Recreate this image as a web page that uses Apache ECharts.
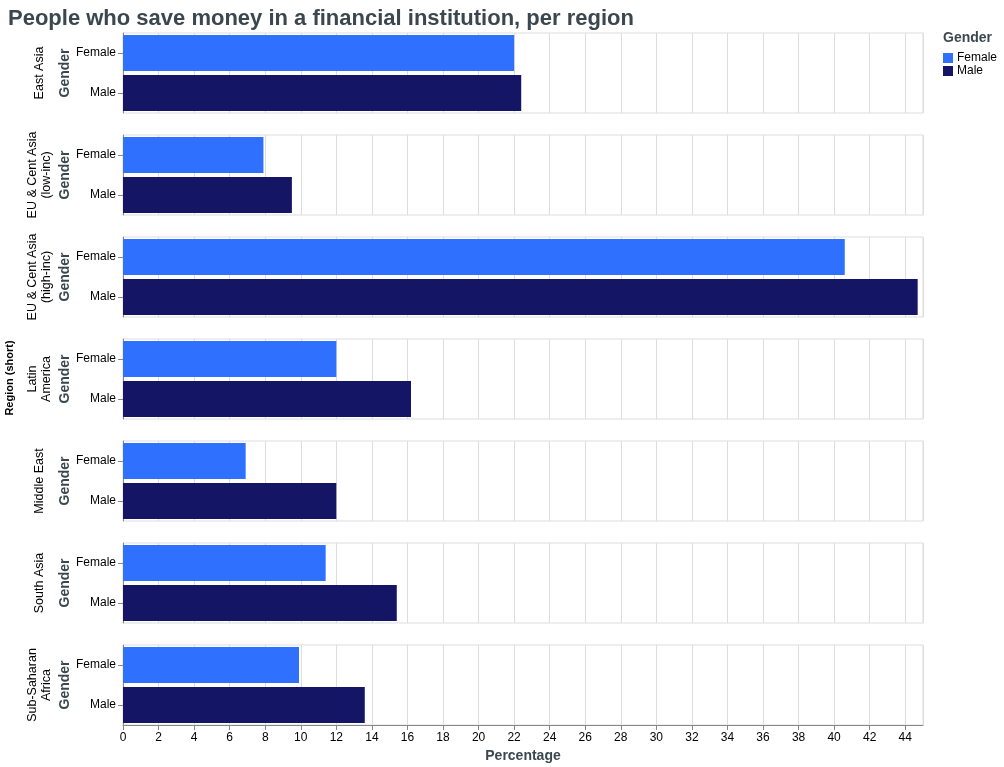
<!DOCTYPE html>
<html>
<head>
<meta charset="utf-8">
<script src="https://cdn.jsdelivr.net/npm/echarts@6/dist/echarts.min.js"></script>
<style>html,body{margin:0;padding:0;background:#fff}#c{width:1004px;height:767px}</style>
</head>
<body>
<div id="c"></div>
<script>
const regions = ["East Asia", "EU & Cent Asia\n(low-inc)", "EU & Cent Asia\n(high-inc)", "Latin\nAmerica", "Middle East", "South Asia", "Sub-Saharan\nAfrica"];
const genders = ["Female", "Male"];
const femaleValues = [22.0, 7.9, 40.6, 12.0, 6.9, 11.4, 9.9];
const maleValues = [22.4, 9.5, 44.7, 16.2, 12.0, 15.4, 13.6];
const xMin = 0, xMax = 45, xStep = 2;

const FONT = '"Liberation Sans", Arial, sans-serif';
const FEMALE = '#3070ff';
const MALE = '#151565';
const TITLE_COLOR = '#3b474e';

const gridTop0 = 33, gridH = 80, gridGap = 22, gridLeft = 123, gridRight = 81;
const grids = [], xAxes = [], yAxes = [], series = [], graphics = [];
regions.forEach((r, i) => {
  const top = gridTop0 + i * (gridH + gridGap);
  const last = i === regions.length - 1;
  grids.push({left: gridLeft, right: gridRight, top: top, height: gridH, show: true, borderColor: '#ddd', borderWidth: 1, backgroundColor: 'transparent'});
  xAxes.push({
    type: 'value', gridIndex: i, min: xMin, max: xMax, interval: xStep,
    splitLine: {show: true, lineStyle: {color: '#ddd', width: 1}},
    axisLine: {show: last, lineStyle: {color: '#888'}},
    axisTick: {show: last, length: 5, lineStyle: {color: '#888'}},
    axisLabel: {show: last, fontFamily: FONT, fontSize: 12, color: '#000', margin: 7,
      showMaxLabel: false},
    name: last ? 'Percentage' : '', nameLocation: 'middle', nameGap: 24,
    nameTextStyle: {fontFamily: FONT, fontSize: 14, fontWeight: 'bold', color: TITLE_COLOR}
  });
  yAxes.push({
    type: 'category', gridIndex: i, data: genders, inverse: true,
    axisLine: {show: true, lineStyle: {color: '#888'}},
    axisTick: {show: true, alignWithLabel: true, length: 5, lineStyle: {color: '#888'}},
    axisLabel: {fontFamily: FONT, fontSize: 12, color: '#000', margin: 7},
    splitLine: {show: false}
  });
  series.push({
    name: 'Female', type: 'bar', xAxisIndex: i, yAxisIndex: i, stack: 's' + i,
    barWidth: 36, itemStyle: {color: FEMALE}, data: [femaleValues[i], '-']
  });
  series.push({
    name: 'Male', type: 'bar', xAxisIndex: i, yAxisIndex: i, stack: 's' + i,
    barWidth: 36, itemStyle: {color: MALE}, data: ['-', maleValues[i]]
  });
  graphics.push({
    type: 'text', x: 40, y: top + gridH / 2, rotation: Math.PI / 2,
    style: {text: r, fontFamily: FONT, fontSize: 12.5, fill: '#000', textAlign: 'center', textVerticalAlign: 'middle', lineHeight: 14}
  });
  graphics.push({
    type: 'text', x: 65, y: top + gridH / 2, rotation: Math.PI / 2,
    style: {text: 'Gender', fontFamily: FONT, fontSize: 14, fontWeight: 'bold', fill: TITLE_COLOR, textAlign: 'center', textVerticalAlign: 'middle'}
  });
});
graphics.push({
  type: 'text', x: 10, y: 378, rotation: Math.PI / 2,
  style: {text: 'Region (short)', fontFamily: FONT, fontSize: 11, fontWeight: 'bold', fill: '#000', textAlign: 'center', textVerticalAlign: 'middle'}
});
graphics.push({
  type: 'text', left: 943, top: 31,
  style: {text: 'Gender', fontFamily: FONT, fontSize: 14, fontWeight: 'bold', fill: TITLE_COLOR}
});

const chart = echarts.init(document.getElementById('c'), null, {renderer: 'canvas'});
chart.setOption({
  animation: false,
  backgroundColor: '#fff',
  title: {text: 'People who save money in a financial institution, per region', left: 3, top: 3,
    textStyle: {fontFamily: FONT, fontSize: 22, fontWeight: 'bold', color: TITLE_COLOR}},
  legend: {data: ['Female', 'Male'], orient: 'vertical', left: 938, top: 47, itemWidth: 10, itemHeight: 10, itemGap: 1,
    icon: 'rect', textStyle: {fontFamily: FONT, fontSize: 12, color: '#000', padding: [0, 0, 0, -1]}, selectedMode: false},
  grid: grids, xAxis: xAxes, yAxis: yAxes, series: series, graphic: graphics
});
</script>
</body>
</html>
